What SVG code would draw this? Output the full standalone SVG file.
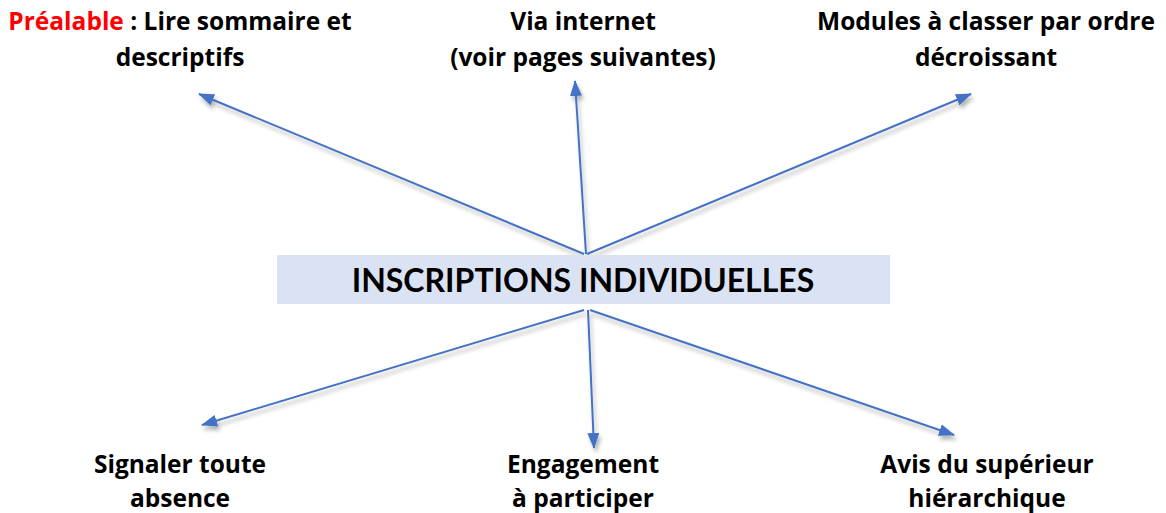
<svg xmlns="http://www.w3.org/2000/svg" width="1166" height="513" viewBox="0 0 1166 513">
<style>
.t{font-family:"Open Sans",Lato,"Liberation Sans",sans-serif;font-weight:bold;font-size:24.5px;fill:#000;text-anchor:middle}
.m{font-family:Lato,"Open Sans","Liberation Sans",sans-serif;font-weight:bold;font-size:32px;fill:#000;text-anchor:middle}
.c{stroke:#4472c4;stroke-width:2;fill:none;marker-end:url(#ah)}
</style>
<defs>
<marker id="ah" markerWidth="16" markerHeight="12" refX="15" refY="6" orient="auto" markerUnits="userSpaceOnUse" viewBox="0 0 16 12">
<path d="M0,0 L16,6 L0,12 Z" fill="#4472c4"/>
</marker>
<filter id="sh" x="-20%" y="-20%" width="140%" height="140%">
<feGaussianBlur in="SourceAlpha" stdDeviation="2"/>
<feOffset dx="2" dy="4" result="b"/>
<feComponentTransfer><feFuncA type="linear" slope="0.3"/></feComponentTransfer>
<feMerge><feMergeNode/><feMergeNode in="SourceGraphic"/></feMerge>
</filter>
</defs>
<rect width="1166" height="513" fill="#fff"/>
<g id="connectors" filter="url(#sh)">
<line class="c" x1="584" y1="254" x2="199" y2="94"/>
<line class="c" x1="586" y1="254" x2="575" y2="81"/>
<line class="c" x1="587" y1="254" x2="971" y2="94"/>
<line class="c" x1="584" y1="310" x2="202" y2="425"/>
<line class="c" x1="588" y1="310" x2="594" y2="448"/>
<line class="c" x1="590" y1="310" x2="954" y2="435"/>
</g>
<g id="center">
<rect x="277" y="255" width="613" height="49" fill="#dae3f3"/>
<text class="m" x="583" y="292">INSCRIPTIONS INDIVIDUELLES</text>
</g>
<g id="n-prealable">
<text class="t" x="180" y="30"><tspan fill="#ff0000">Préalable</tspan> : Lire sommaire et</text>
<text class="t" x="180" y="66">descriptifs</text>
</g>
<g id="n-internet">
<text class="t" x="583" y="30">Via internet</text>
<text class="t" x="583" y="66">(voir pages suivantes)</text>
</g>
<g id="n-modules">
<text class="t" x="986" y="30">Modules à classer par ordre</text>
<text class="t" x="986" y="66">décroissant</text>
</g>
<g id="n-signaler">
<text class="t" x="180" y="473">Signaler toute</text>
<text class="t" x="180" y="507">absence</text>
</g>
<g id="n-engagement">
<text class="t" x="583" y="473">Engagement</text>
<text class="t" x="583" y="507">à participer</text>
</g>
<g id="n-avis">
<text class="t" x="987" y="473">Avis du supérieur</text>
<text class="t" x="987" y="507">hiérarchique</text>
</g>
</svg>
